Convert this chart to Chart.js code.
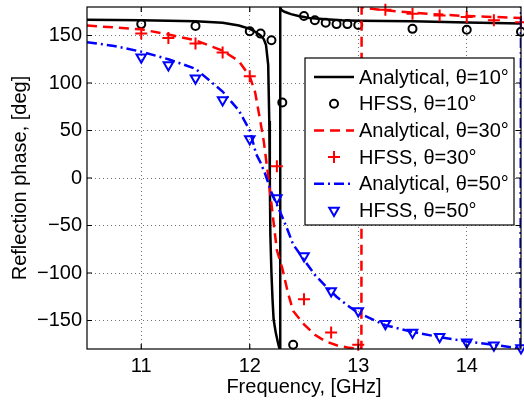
<!DOCTYPE html>
<html>
<head>
<meta charset="utf-8">
<script src="https://cdn.jsdelivr.net/npm/chart.js"></script>
<style>
  body { margin: 0; background: #fff; }
</style>
</head>
<body>
<canvas id="myChart" width="524" height="402"></canvas>
<script>
// values
var freqA10 = [10.5, 11, 11.5, 11.75, 11.9, 12.0, 12.05, 12.1, 12.13, 12.15, 12.17, 12.18, 12.185, 12.19, 12.2, 12.21, 12.22, 12.24, 12.26, 12.27, 12.279, 12.281, 12.29, 12.32, 12.38, 12.45, 12.55, 12.7, 12.85, 13, 13.5, 14, 14.5]
var phaseA10 = [166.5, 166, 165, 163.5, 160.5, 157, 154, 150, 146, 140, 119, 60, 0, -60, -100, -128, -149, -163, -173.5, -178, -180, 180, 177, 175, 172.5, 170.5, 168.5, 167, 166, 165.5, 165, 163.7, 162.5]

var freqH10 = [11.0, 11.5, 12.0, 12.1, 12.2, 12.3, 12.4, 12.5, 12.6, 12.7, 12.8, 12.9, 13.0, 13.5, 14.0, 14.5]
var phaseH10 = [162, 160, 154.5, 152, 145, 79.5, -175.5, 170.5, 166, 163.5, 162, 162, 161, 157, 156, 154]

var freqA30 = [10.5, 10.75, 11, 11.25, 11.5, 11.75, 11.9, 12.0, 12.05, 12.1, 12.13, 12.17, 12.2, 12.22, 12.25, 12.3, 12.35, 12.4, 12.5, 12.6, 12.7, 12.8, 12.9, 13.0, 13.029, 13.031, 13.1, 13.25, 13.5, 13.75, 14, 14.25, 14.5]
var phaseA30 = [160.5, 158.5, 156.5, 151, 145, 134, 123, 107, 90, 58, 38, 2, -27, -47, -76, -95, -120, -140, -154, -165, -172, -176, -178.5, -179.5, -180, 180, 178.5, 176.5, 174, 172, 170.5, 169.5, 168.5]

var freqH30 = [11.0, 11.25, 11.5, 11.75, 12.0, 12.25, 12.5, 12.75, 13.0, 13.25, 13.5, 13.75, 14.0, 14.25, 14.5]
var phaseH30 = [152, 147.5, 141.5, 132, 107, 12.5, -127.5, -162.5, -175.5, 177, 173, 171, 169.5, 166, 164]

var freqA50 = [10.5, 10.75, 11, 11.25, 11.5, 11.75, 11.9, 12.0, 12.06, 12.1, 12.14, 12.2, 12.25, 12.3, 12.35, 12.4, 12.5, 12.6, 12.7, 12.8, 12.9, 13.0, 13.25, 13.5, 13.75, 14, 14.25, 14.495, 14.5]
var phaseA50 = [143, 139, 133, 125, 115, 91, 71, 50, 25, 16, 5, -15, -28, -41, -55, -70, -86, -102, -114, -125, -134, -142, -155, -162, -167.5, -172, -175.5, -179.5, 180]

var freqH50 = [11.0, 11.25, 11.5, 11.75, 12.0, 12.25, 12.5, 12.75, 13.0, 13.25, 13.5, 13.75, 14.0, 14.25, 14.5]
var phaseH50 = [127, 119, 105, 82, 41, -21, -82, -119, -140, -153.5, -162.5, -167, -173, -176, -179]

var xTicks = [11, 12, 13, 14]
var yTicks = [-150, -100, -50, 0, 50, 100, 150]

var labels = ['Analytical, θ=10°', 'HFSS, θ=10°', 'Analytical, θ=30°', 'HFSS, θ=30°', 'Analytical, θ=50°', 'HFSS, θ=50°']

function pts(xs, ys) {
    return xs.map((v, i) => ({x: v, y: ys[i]}))
}

const FONT = 'Liberation Sans, Arial, sans-serif'

function lineSet(i, xs, ys, color, dash) {
    return {
        label: labels[i], data: pts(xs, ys), showLine: true,
        borderColor: color, borderWidth: 2.5, borderDash: dash,
        pointRadius: 0, fill: false, order: 6 - i
    }
}
function markSet(i, xs, ys, color, style, r, rot) {
    return {
        label: labels[i], data: pts(xs, ys), showLine: false,
        borderColor: color, backgroundColor: 'rgba(0,0,0,0)', pointBorderWidth: 2,
        pointStyle: style, pointRadius: r, pointRotation: rot || 0,
        clip: false, order: 6 - i
    }
}

function drawMark(ctx, style, x, y, color) {
    ctx.save()
    ctx.strokeStyle = color
    ctx.lineWidth = 2
    ctx.beginPath()
    if (style == 'circle') {
        ctx.arc(x, y, 4, 0, Math.PI * 2)
    } else if (style == 'cross') {
        ctx.moveTo(x - 6, y); ctx.lineTo(x + 6, y)
        ctx.moveTo(x, y - 6); ctx.lineTo(x, y + 6)
    } else {
        var r = 5.5
        ctx.moveTo(x, y + r)
        ctx.lineTo(x - r * 0.866, y - r / 2)
        ctx.lineTo(x + r * 0.866, y - r / 2)
        ctx.closePath()
    }
    ctx.stroke()
    ctx.restore()
}

const frame = {
    id: 'frame',
    afterDatasetsDraw(chart) {
        const ctx = chart.ctx, a = chart.chartArea
        const xs = chart.scales.x, ys = chart.scales.y
        ctx.save()
        ctx.strokeStyle = '#000'
        ctx.lineWidth = 1.2
        ctx.strokeRect(a.left, a.top, a.right - a.left, a.bottom - a.top)
        ctx.beginPath()
        xTicks.forEach(t => {
            var px = xs.getPixelForValue(t)
            ctx.moveTo(px, a.bottom); ctx.lineTo(px, a.bottom - 5)
            ctx.moveTo(px, a.top); ctx.lineTo(px, a.top + 5)
        })
        yTicks.forEach(t => {
            var py = ys.getPixelForValue(t)
            ctx.moveTo(a.left, py); ctx.lineTo(a.left + 5, py)
            ctx.moveTo(a.right, py); ctx.lineTo(a.right - 5, py)
        })
        ctx.stroke()
        ctx.restore()
    },
    afterDraw(chart) {
        // legend box inside the plot, MATLAB style
        const ctx = chart.ctx
        var bx = 305, by = 58, bw = 209, bh = 167
        ctx.save()
        ctx.fillStyle = '#fff'
        ctx.fillRect(bx, by, bw, bh)
        ctx.strokeStyle = '#000'
        ctx.lineWidth = 1.2
        ctx.strokeRect(bx, by, bw, bh)
        ctx.font = '20px ' + FONT
        ctx.textBaseline = 'middle'
        ctx.fillStyle = '#000'
        chart.data.datasets.forEach((ds, i) => {
            var cy = by + 19 + i * 26.7
            if (ds.showLine) {
                ctx.save()
                ctx.strokeStyle = ds.borderColor
                ctx.lineWidth = ds.borderWidth
                ctx.setLineDash(ds.borderDash || [])
                ctx.beginPath()
                ctx.moveTo(314, cy); ctx.lineTo(354, cy)
                ctx.stroke()
                ctx.restore()
            } else {
                drawMark(ctx, ds.pointStyle, 334, cy, ds.borderColor)
            }
            ctx.fillText(ds.label, 359, cy + 1)
        })
        ctx.restore()
    }
}

var ctx = document.getElementById('myChart')
var myChart = new Chart(ctx, {
    type: 'scatter',
    data: {
        datasets: [
            lineSet(0, freqA10, phaseA10, '#000000', []),
            markSet(1, freqH10, phaseH10, '#000000', 'circle', 4),
            lineSet(2, freqA30, phaseA30, '#ff0000', [10, 6]),
            markSet(3, freqH30, phaseH30, '#ff0000', 'cross', 6),
            lineSet(4, freqA50, phaseA50, '#0000ff', [10, 4, 2, 4]),
            markSet(5, freqH50, phaseH50, '#0000ff', 'triangle', 5.5, 180)
        ]
    },
    options: {
        responsive: false,
        animation: false,
        devicePixelRatio: 1,
        layout: { autoPadding: false, padding: { top: 7, right: 3, left: 0, bottom: 0 } },
        plugins: { legend: { display: false }, tooltip: { enabled: false } },
        scales: {
            x: {
                type: 'linear', min: 10.5, max: 14.5,
                afterBuildTicks: s => { s.ticks = xTicks.map(v => ({value: v})) },
                afterFit: s => { s.height = 53; s.paddingLeft = 0; s.paddingRight = 0 },
                grid: { color: 'rgba(0,0,0,0.55)', lineWidth: 1, drawTicks: false },
                border: { display: false, dash: [1, 3] },
                ticks: { color: '#000', font: { family: FONT, size: 20 }, padding: 5, maxRotation: 0 },
                title: { display: true, text: 'Frequency, [GHz]', color: '#000', font: { family: FONT, size: 20 }, padding: { top: 0, bottom: 3 } }
            },
            y: {
                min: -180, max: 180,
                afterBuildTicks: s => { s.ticks = yTicks.map(v => ({value: v})) },
                afterFit: s => { s.width = 87; s.paddingTop = 0; s.paddingBottom = 0 },
                grid: { color: 'rgba(0,0,0,0.55)', lineWidth: 1, drawTicks: false },
                border: { display: false, dash: [1, 3] },
                ticks: { color: '#000', font: { family: FONT, size: 20 }, padding: 5,
                    callback: v => v < 0 ? '\u2212' + (-v) : '' + v },
                title: { display: true, text: 'Reflection phase, [deg]', color: '#000', font: { family: FONT, size: 20 }, padding: { top: 8, bottom: 0 } }
            }
        }
    },
    plugins: [frame]
})
</script>
</body>
</html>
